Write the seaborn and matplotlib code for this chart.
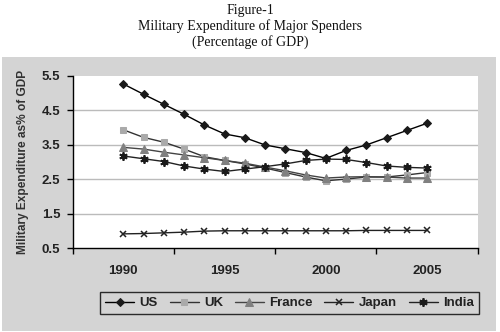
import matplotlib
matplotlib.use("Agg")
import matplotlib.pyplot as plt
import seaborn as sns
import numpy as np
from matplotlib.patches import Rectangle

years = list(range(1990, 2006))
us = [5.26, 4.96, 4.67, 4.38, 4.07, 3.81, 3.70, 3.49, 3.38, 3.27, 3.10, 3.33, 3.49, 3.70, 3.91, 4.12]
uk = [3.93, 3.71, 3.57, 3.37, 3.15, 3.04, 2.94, 2.82, 2.69, 2.56, 2.45, 2.50, 2.56, 2.56, 2.62, 2.69]
france = [3.42, 3.37, 3.28, 3.20, 3.12, 3.04, 2.96, 2.85, 2.74, 2.62, 2.53, 2.56, 2.57, 2.56, 2.53, 2.53]
japan = [0.91, 0.92, 0.94, 0.96, 0.99, 1.00, 1.00, 1.00, 1.00, 1.00, 1.00, 1.00, 1.01, 1.01, 1.01, 1.01]
india = [3.17, 3.09, 3.01, 2.88, 2.79, 2.72, 2.79, 2.86, 2.94, 3.04, 3.08, 3.07, 2.98, 2.88, 2.84, 2.82]

xtick_labels = ["1990", "1995", "2000", "2005"]
ytick_values = [0.5, 1.5, 2.5, 3.5, 4.5, 5.5]

sns.set_theme(style="white")
plt.rcParams['font.family'] = ['Liberation Sans', 'DejaVu Sans']

fig = plt.figure(figsize=(5, 3.32), dpi=100)
fig.patch.set_facecolor("white")
fig.patches.append(Rectangle((0.004, 0.004), 0.988, 0.824, transform=fig.transFigure,
                             facecolor="#d4d4d4", edgecolor="none", zorder=-5))

ax = fig.add_axes([0.1454, 0.253, 0.81, 0.519])
ax.set_facecolor("white")

common = dict(ax=ax, linewidth=1.0, legend=False)
sns.lineplot(x=years, y=us, color="black", marker="D", markersize=4.5,
             markerfacecolor="#1a1a1a", markeredgecolor="#1a1a1a", label="US", **common)
sns.lineplot(x=years, y=uk, color="#333333", marker="s", markersize=4.5,
             markerfacecolor="#aaaaaa", markeredgecolor="#aaaaaa", label="UK", **common)
sns.lineplot(x=years, y=france, color="#444444", marker="^", markersize=5.5,
             markerfacecolor="#808080", markeredgecolor="#808080", label="France", **common)
sns.lineplot(x=years, y=japan, color="#222222", marker="x", markersize=4,
             markeredgewidth=1.1, markeredgecolor="#222222", label="Japan", **common)
sns.lineplot(x=years, y=india, color="#222222", marker=(6, 2, 0), markersize=6,
             markeredgewidth=1.3, markeredgecolor="#1a1a1a", label="India", **common)

ax.set_xlim(1987.5, 2007.5)
ax.set_ylim(0.5, 5.5)
ax.set_xticks([1990, 1995, 2000, 2005])
ax.set_xticklabels(xtick_labels, fontsize=9.5, fontweight="bold", color="#222222")
ax.set_xticks([1987.5, 1992.5, 1997.5, 2002.5, 2007.5], minor=True)
ax.tick_params(axis="x", which="major", length=0, pad=12)
ax.tick_params(axis="x", which="minor", length=4, width=1, color="black", direction="out", bottom=True)
ax.set_yticks(ytick_values)
ax.set_yticklabels([f"{v:.1f}" for v in ytick_values], fontsize=9.5, fontweight="bold", color="#222222")
ax.tick_params(axis="y", length=4, width=1, color="black", direction="out", left=True, pad=5)

for v in ytick_values[1:-1]:
    ax.axhline(v, color="#bbbbbb", linewidth=1.0, zorder=0)

for s in ["top", "right"]:
    ax.spines[s].set_visible(False)
for s in ["left", "bottom"]:
    ax.spines[s].set_color("black")
    ax.spines[s].set_linewidth(1.0)

ax.set_xlabel("")
ax.set_ylabel("Military Expenditure as% of GDP", fontsize=8.6, fontweight="bold", color="#333333", labelpad=9)

handles, labels = ax.get_legend_handles_labels()
leg = fig.legend(handles, labels, loc="center", bbox_to_anchor=(0.579, 0.087), ncol=5,
                 frameon=True, fancybox=False, edgecolor="black", facecolor="#d4d4d4",
                 prop={"weight": "bold", "size": 9.5}, handlelength=2.2, handletextpad=0.4,
                 columnspacing=0.9, borderpad=0.35)
leg.get_frame().set_linewidth(1.0)
for t in leg.get_texts():
    t.set_color("#222222")

fig.text(0.5, 0.968, "Figure-1", ha="center", va="center", fontsize=10, family="Liberation Serif", color="#111111")
fig.text(0.5, 0.920, "Military Expenditure of Major Spenders", ha="center", va="center", fontsize=10,
         family="Liberation Serif", color="#111111")
fig.text(0.5, 0.872, "(Percentage of GDP)", ha="center", va="center", fontsize=10,
         family="Liberation Serif", color="#111111")

fig.savefig("out.png", dpi=100)
